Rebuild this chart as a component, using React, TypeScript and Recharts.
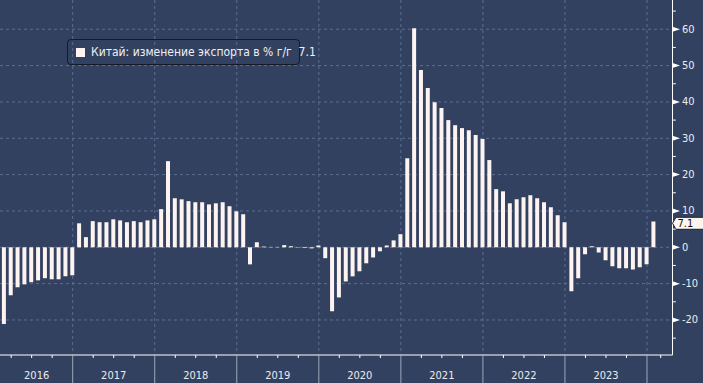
import { BarChart, Bar, XAxis, YAxis, CartesianGrid, ReferenceDot } from 'recharts';

// China exports, YTD % y/y, month-end values (Feb 2016 .. Jan 2024)
const exp2016 = [-21.1, -13.2, -11.0, -10.2, -9.6, -9.1, -8.5, -8.8, -8.8, -8.0, -7.7]; // Feb-Dec
const exp2017 = [6.6, 2.8, 7.2, 6.9, 6.9, 7.7, 7.4, 6.9, 7.2, 6.9, 7.4, 7.7];
const exp2018 = [10.5, 23.7, 13.5, 13.2, 12.7, 12.4, 12.4, 11.8, 12.1, 12.4, 11.3, 9.9];
const exp2019 = [9.1, -4.7, 1.4, 0.2, 0.1, 0.1, 0.6, 0.3, -0.1, -0.2, -0.3, 0.5];
const exp2020 = [-3.0, -17.6, -13.8, -9.4, -8.0, -6.6, -4.4, -2.8, -1.1, 0.5, 1.9, 3.6];
const exp2021 = [24.5, 60.3, 48.8, 43.8, 39.9, 38.3, 35.0, 33.6, 32.8, 32.2, 30.9, 29.8];
const exp2022 = [24.0, 16.0, 15.4, 12.1, 13.2, 13.8, 14.3, 13.5, 12.4, 11.0, 8.8, 6.9];
const exp2023 = [-12.1, -8.5, -1.9, 0.3, -1.4, -3.6, -5.2, -5.8, -5.8, -6.1, -5.5, -4.7];
const exp2024 = [7.1]; // Jan

const years = [2016, 2017, 2018, 2019, 2020, 2021, 2022, 2023];
const yTicks = [-25, -20, -15, -10, -5, 0, 5, 10, 15, 20, 25, 30, 35, 40, 45, 50, 55, 60, 65];
const gridValues = [-20, -10, 0, 10, 20, 30, 40, 50, 60];

const LEGEND_TEXT = 'Китай: изменение экспорта в % г/г  7.1';

const series = [...exp2016, ...exp2017, ...exp2018, ...exp2019, ...exp2020, ...exp2021, ...exp2022, ...exp2023, ...exp2024];
const data = series.map((v, i) => ({ i, v }));
const LAST = series[series.length - 1];

// month index: 0 = Feb 2016, Dec of year Y = 10 + 12 * (Y - 2016)
const yearEnds = years.map((y) => 10 + 12 * (y - 2016));
const xTicks: number[] = [];
for (let i = 1; i <= 94; i += 3) xTicks.push(i);
xTicks.push(96);

const X_MIN = -0.63;
const X_MAX = 97.73;
const Y_MIN = -29.64;
const Y_MAX = 68.05;

const W = 703;
const H = 383;
const BG = '#334160';
const GRID = '#5c6e92';
const BAR = '#fdf4f2';
const FONT = '"DejaVu Sans Condensed", "DejaVu Sans", sans-serif';

const XTick = ({ x, y, payload }: any) => {
  const v = payload.value;
  const yearEnd = (v - 10) % 12 === 0;
  const mid = (v - 4) % 12 === 0;
  const year = 2016 + (v - 4) / 12;
  return (
    <g>
      {yearEnd ? (
        <line x1={x} x2={x} y1={y} y2={H} stroke="#9ea7ba" strokeWidth={1} />
      ) : (
        <line x1={x} x2={x} y1={y} y2={y + 3} stroke="#fff" strokeWidth={1} />
      )}
      {mid && years.includes(year) && (
        // first year is cut by the left edge, label centred on its visible part
        <text x={x + (year === 2016 ? 5 : 0)} y={y + 20} textAnchor="middle" dominantBaseline="central" fill="#e9ecf2" fontSize={11} fontFamily={FONT}>
          {year}
        </text>
      )}
    </g>
  );
};

const YTick = ({ x, y, payload }: any) => {
  const v = payload.value;
  if (v % 10 !== 0) {
    return <line x1={x} x2={x + 3.3} y1={y} y2={y} stroke="#fff" strokeWidth={1} />;
  }
  return (
    <g>
      <polygon points={`${x},${y - 2.5} ${x + 7.5},${y} ${x},${y + 2.5}`} fill="#fff" />
      <text x={x + 9.5} y={y} dominantBaseline="central" fill="#e9ecf2" fontSize={11} fontFamily={FONT}>
        {v}
      </text>
    </g>
  );
};

const LastValueTag = ({ cx, cy }: any) => {
  const y = cy + 1.8;
  return (
    <g>
      <polygon
        points={`${cx},${y} ${cx + 3.5},${y - 6} ${cx + 31},${y - 6} ${cx + 31},${y + 6} ${cx + 3.5},${y + 6}`}
        fill="#fff4ee"
        stroke="#1a2030"
        strokeWidth={1}
      />
      <text x={cx + 5} y={y} dominantBaseline="central" fill="#111" fontSize={11} fontFamily={FONT}>
        {LAST}
      </text>
    </g>
  );
};

export default function App() {
  return (
    <div style={{ position: 'absolute', left: 0, top: 0, width: W, height: H, background: BG, overflow: 'hidden' }}>
      <BarChart width={W} height={H} data={data} margin={{ top: 0, right: 0, bottom: 0, left: 0 }}>
        <CartesianGrid
          stroke={GRID}
          strokeDasharray="3 3"
          horizontalValues={gridValues}
          verticalValues={yearEnds}
        />
        <XAxis
          dataKey="i"
          type="number"
          scale="linear"
          domain={[X_MIN, X_MAX]}
          allowDataOverflow
          ticks={xTicks}
          interval={0}
          height={28}
          tickLine={false}
          tickSize={0}
          tickMargin={0}
          axisLine={{ stroke: '#fff' }}
          tick={<XTick />}
        />
        <YAxis
          orientation="right"
          width={30.5}
          domain={[Y_MIN, Y_MAX]}
          allowDataOverflow
          ticks={yTicks}
          interval={0}
          tickLine={false}
          tickSize={0}
          tickMargin={0}
          axisLine={{ stroke: '#fff' }}
          tick={<YTick />}
        />
        <Bar dataKey="v" fill={BAR} barSize={4} isAnimationActive={false} />
        <ReferenceDot x={X_MAX} y={LAST} r={0} ifOverflow="visible" shape={<LastValueTag />} />
      </BarChart>
      <div
        style={{
          position: 'absolute',
          left: 67,
          top: 39,
          width: 233,
          height: 26,
          border: '1px solid #141a28',
          borderRadius: 4,
          boxSizing: 'border-box',
        }}
      >
        <div style={{ position: 'absolute', left: 8, top: 8, width: 9, height: 9, background: BAR }} />
        <div
          style={{
            position: 'absolute',
            left: 23,
            top: 0,
            lineHeight: '25px',
            fontSize: 12,
            fontFamily: FONT,
            color: '#eef0f4',
            whiteSpace: 'pre',
          }}
        >
          {LEGEND_TEXT}
        </div>
      </div>
    </div>
  );
}
